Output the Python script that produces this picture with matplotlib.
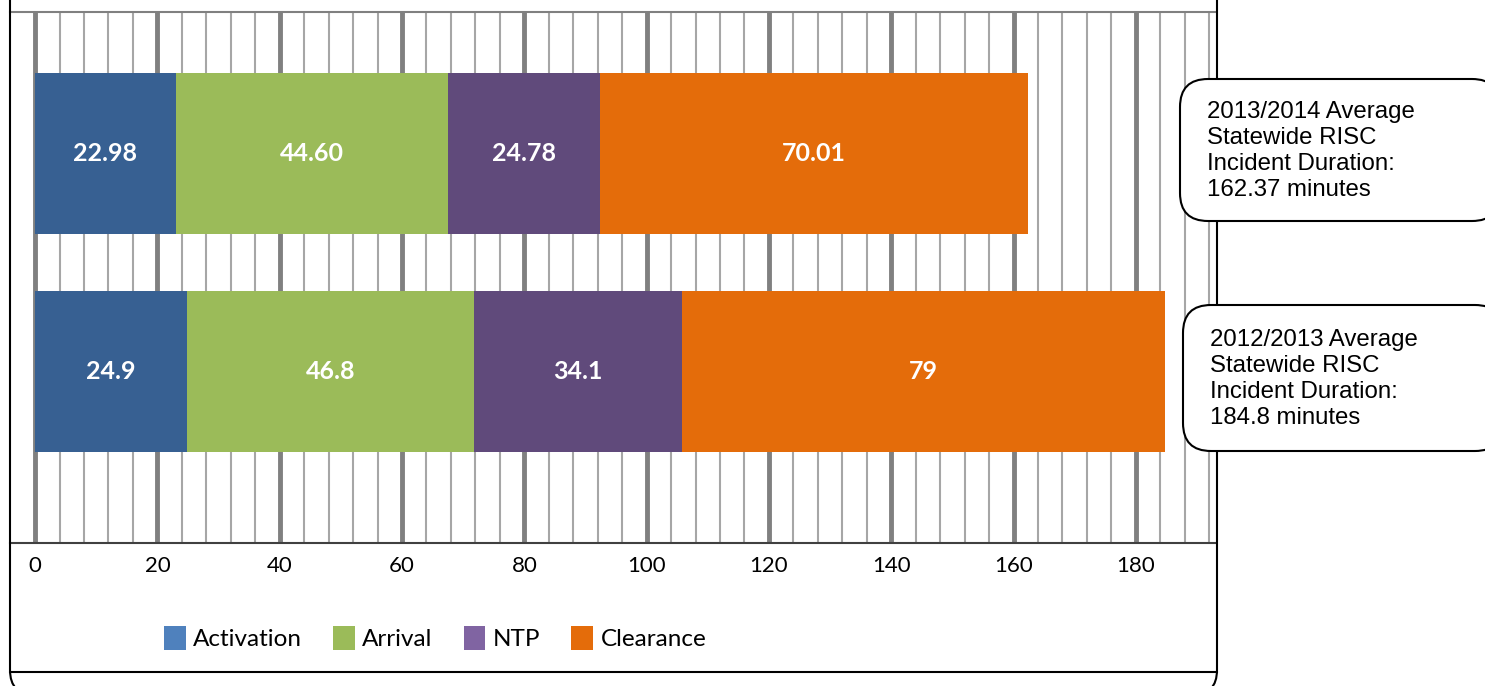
import matplotlib
matplotlib.use("Agg")
import matplotlib.pyplot as plt
from matplotlib.patches import FancyBboxPatch, Patch
from matplotlib.lines import Line2D
import numpy as np

# data
years = ["2012/2013", "2013/2014"]
segments = ["Activation", "Arrival", "NTP", "Clearance"]
vals_1213 = [24.9, 46.8, 34.1, 79]
vals_1314 = [22.98, 44.60, 24.78, 70.01]
labels_1213 = ["24.9", "46.8", "34.1", "79"]
labels_1314 = ["22.98", "44.60", "24.78", "70.01"]
box_texts = ["2013/2014 Average\nStatewide RISC\nIncident Duration:\n162.37 minutes",
             "2012/2013 Average\nStatewide RISC\nIncident Duration:\n184.8 minutes"]
xticks = [0, 20, 40, 60, 80, 100, 120, 140, 160, 180]

bar_cols = ["#376092", "#9BBB59", "#604A7B", "#E46C0A"]
leg_cols = ["#4F81BD", "#9BBB59", "#8064A2", "#E46C0A"]

W, H = 1485, 686
fig = plt.figure(figsize=(W / 100, H / 100), dpi=100)
ax = fig.add_axes([10 / W, (H - 543) / H, 1206 / W, 531 / H])

ypos = [0, 1]
data = np.array([vals_1213, vals_1314])
labs = [labels_1213, labels_1314]

# grid lines
for g in np.arange(0, 193, 4):
    if g % 20 == 0:
        ax.axvline(g, color="#808080", lw=3.5, zorder=0)
    else:
        ax.axvline(g, color="#a6a6a6", lw=1.5, zorder=0)

for i, y in enumerate(ypos):
    left = 0
    for j in range(4):
        v = data[i, j]
        ax.barh(y, v, left=left, height=0.735, color=bar_cols[j], zorder=2)
        ax.text(left + v / 2, y, labs[i][j], ha="center", va="center",
                color="white", fontsize=18, fontweight="bold", family="Lato", zorder=3)
        left += v

ax.set_xlim(-4.1, 193.1)
ax.set_ylim(-0.784, 1.647)
ax.set_xticks(xticks)
ax.set_xticklabels([str(t) for t in xticks], family="Lato", fontsize=16)
ax.tick_params(axis="x", length=0, pad=9)
ax.set_yticks([])
for s in ["left", "right"]:
    ax.spines[s].set_visible(False)
ax.spines["top"].set_color("#808080")
ax.spines["top"].set_linewidth(1.5)
ax.spines["bottom"].set_color("#404040")
ax.spines["bottom"].set_linewidth(1.5)

# legend with the lighter swatch colours
handles = [Patch(facecolor=c, edgecolor="none") for c in leg_cols]
fig.legend(handles, segments, loc="center", bbox_to_anchor=(435 / W, 1 - 638 / H),
           ncol=4, frameon=False, handlelength=0.9, handleheight=1.2,
           handletextpad=0.3, columnspacing=1.28, prop={"family": "Lato", "size": 17.5})

# outer frame
frame = FancyBboxPatch((0.10, -0.09), 12.07, 7.4,
                       boxstyle="round,pad=0,rounding_size=0.25",
                       transform=fig.dpi_scale_trans, fill=False,
                       edgecolor="black", lw=1.5)
fig.add_artist(frame)
fig.add_artist(Line2D([0.10, 12.17], [0.14, 0.14], transform=fig.dpi_scale_trans,
                      color="black", lw=1.5))

# rounded annotation boxes
boxes = [(1180, 79, 221), (1183, 305, 451)]
for (x0, yt, yb), txt in zip(boxes, box_texts):
    b = FancyBboxPatch((x0 / 100, (H - yb) / 100), 3.2, (yb - yt) / 100,
                       boxstyle="round,pad=0,rounding_size=0.28",
                       transform=fig.dpi_scale_trans, facecolor="white",
                       edgecolor="black", lw=1.5)
    fig.add_artist(b)
    fig.text((x0 + 27) / W, 1 - ((yt + yb) / 2 + 1) / H, txt, ha="left", va="center",
             family="Liberation Sans", fontsize=17.3, linespacing=1.22)

fig.savefig("out.png", dpi=100)
